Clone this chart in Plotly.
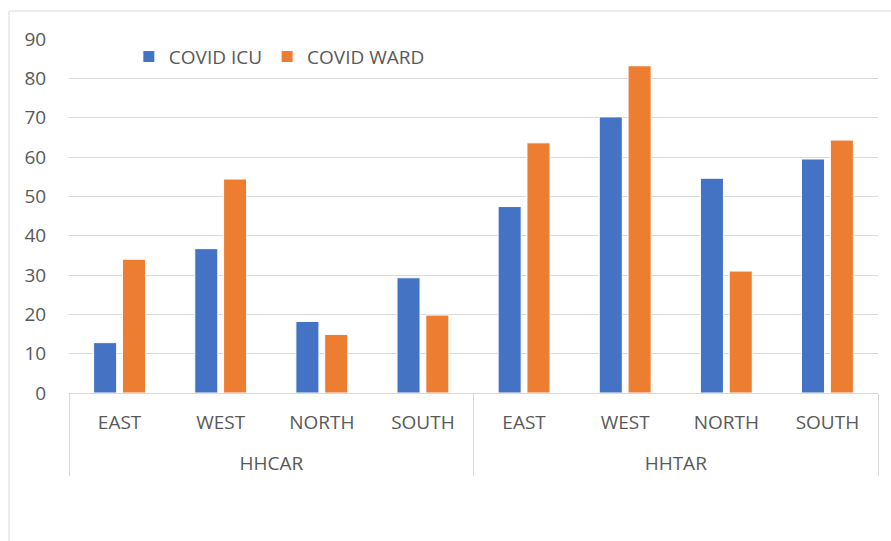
import plotly.graph_objects as go

groups = ["HHCAR"] * 4 + ["HHTAR"] * 4
regions = ["EAST", "WEST", "NORTH", "SOUTH"] * 2
covid_icu = [12.8, 36.7, 18.2, 29.3, 47.4, 70.2, 54.6, 59.5]
covid_ward = [34.0, 54.4, 14.9, 19.8, 63.6, 83.2, 31.0, 64.3]
y_ticks = [0, 10, 20, 30, 40, 50, 60, 70, 80, 90]

FONT = "Open Sans, Lato, sans-serif"
TXT = "#595959"
GRID = "#D9D9D9"

# leading line break pushes the outer category level further down
group_labels = ["<br>" + g for g in groups]

fig = go.Figure()
fig.add_trace(go.Bar(name="COVID ICU", x=[group_labels, regions], y=covid_icu,
                     marker=dict(color="#4472C4", line=dict(color="white", width=1))))
fig.add_trace(go.Bar(name="COVID WARD", x=[group_labels, regions], y=covid_ward,
                     marker=dict(color="#ED7D31", line=dict(color="white", width=1))))

fig.update_layout(
    width=891, height=541,
    margin=dict(l=69, r=13, t=39, b=148),
    paper_bgcolor="white", plot_bgcolor="white",
    barmode="group", bargap=0.43, bargroupgap=0.2,
    font=dict(family=FONT, size=19, color=TXT),
    showlegend=True,
    legend=dict(orientation="h", x=0.074, xanchor="left", y=0.95, yanchor="middle",
                font=dict(family=FONT, size=19, color=TXT), bgcolor="rgba(0,0,0,0)",
                itemwidth=30, traceorder="normal"),
    xaxis=dict(type="multicategory", showgrid=False, showline=True, linecolor=GRID, linewidth=1,
               showdividers=True, dividercolor=GRID, dividerwidth=1,
               tickfont=dict(family=FONT, size=19, color=TXT),
               ticks="", ticklabelstandoff=12),
    yaxis=dict(range=[0, 90], tickvals=y_ticks, showgrid=True, gridcolor=GRID, gridwidth=1,
               zeroline=False, showline=False, ticks="outside", ticklen=18, tickcolor="rgba(0,0,0,0)",
               tickfont=dict(family=FONT, size=19, color=TXT)),
)

fig.add_shape(type="rect", xref="paper", yref="paper",
              x0=-60 / 809, x1=1.05, y0=-0.5, y1=(541 - 11 - 148) / 354,
              line=dict(color=GRID, width=1), fillcolor="rgba(0,0,0,0)", layer="below")

fig.write_html("out.html")
